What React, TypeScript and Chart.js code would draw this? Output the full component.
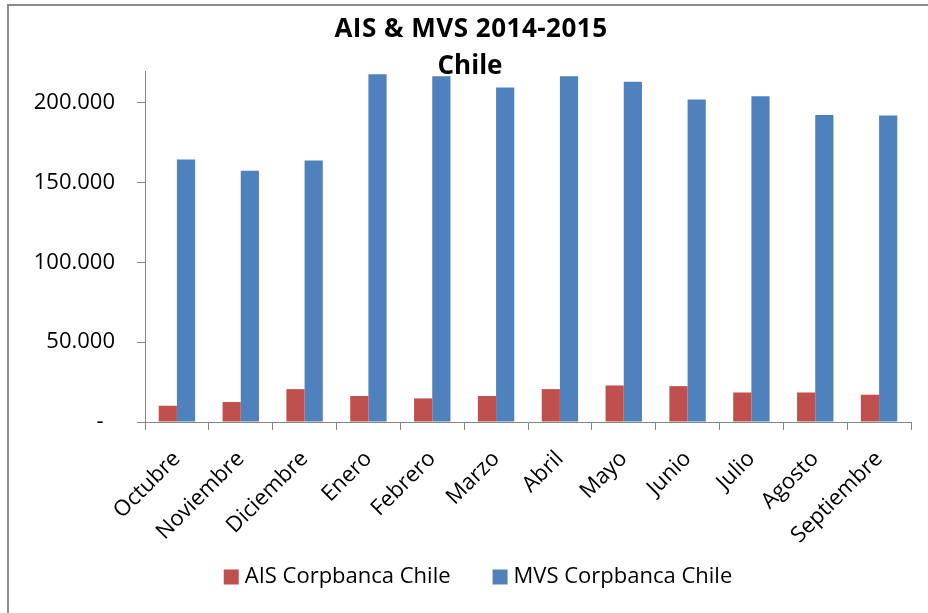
import React, { useEffect, useRef } from 'react';
import { Chart, registerables } from 'chart.js';

Chart.register(...registerables);

const categories = ['Octubre', 'Noviembre', 'Diciembre', 'Enero', 'Febrero', 'Marzo', 'Abril', 'Mayo', 'Junio', 'Julio', 'Agosto', 'Septiembre'];
const aisValues = [10200, 12500, 20600, 16300, 14800, 16300, 20600, 22900, 22500, 18500, 18500, 17100];
const mvsValues = [164600, 157500, 163900, 217900, 216700, 209600, 216700, 213300, 202100, 204200, 192500, 192100];
const yTickValues = [0, 50000, 100000, 150000, 200000];
const seriesNames = ['AIS Corpbanca Chile', 'MVS Corpbanca Chile'];
const seriesColors = ['#C0504D', '#4F81BD'];
const titleLines = ['AIS & MVS 2014-2015', 'Chile'];

const FONT = '"Open Sans", "Liberation Sans", sans-serif';
const AXIS_GRAY = '#868686';

const fmt = (v: number) => (v === 0 ? '-  ' : String(v).replace(/\B(?=(\d{3})+(?!\d))/g, '.'));

const decorPlugin = {
  id: 'decor',
  afterDraw(chart: any) {
    const ctx = chart.ctx;
    ctx.save();
    // outer frame
    ctx.strokeStyle = '#8C8C8C';
    ctx.lineWidth = 2;
    ctx.beginPath();
    ctx.moveTo(8, 613);
    ctx.lineTo(8, 5);
    ctx.lineTo(930, 5);
    ctx.stroke();
    // title
    ctx.fillStyle = '#000';
    ctx.font = `bold 26px ${FONT}`;
    ctx.textAlign = 'center';
    ctx.textBaseline = 'alphabetic';
    (ctx as any).letterSpacing = '0.5px';
    ctx.fillText(titleLines[0], 471, 37);
    (ctx as any).letterSpacing = '0px';
    ctx.fillText(titleLines[1], 470, 74);
    // legend
    ctx.font = `22px ${FONT}`;
    ctx.textAlign = 'left';
    ctx.textBaseline = 'middle';
    const box = 15;
    const gapText = 6;
    const gapItem = 42;
    const widths = seriesNames.map((n) => ctx.measureText(n).width);
    const total = widths.reduce((a, w) => a + box + gapText + w, 0) + gapItem * (seriesNames.length - 1);
    let x = 478 - total / 2;
    const cy = 577;
    seriesNames.forEach((n, i) => {
      ctx.fillStyle = seriesColors[i];
      ctx.fillRect(x, cy - box / 2, box, box);
      ctx.fillStyle = '#000';
      ctx.fillText(n, x + box + gapText, cy);
      x += box + gapText + widths[i] + gapItem;
    });
    ctx.restore();
  },
};

export default function App() {
  const ref = useRef<HTMLCanvasElement>(null);
  useEffect(() => {
    if (!ref.current) return;
    const chart = new Chart(ref.current, {
      type: 'bar',
      data: {
        labels: categories,
        datasets: [
          { label: seriesNames[0], data: aisValues, backgroundColor: seriesColors[0], categoryPercentage: 0.57, barPercentage: 1 },
          { label: seriesNames[1], data: mvsValues, backgroundColor: seriesColors[1], categoryPercentage: 0.57, barPercentage: 1 },
        ],
      },
      options: {
        animation: false,
        responsive: false,
        layout: { padding: { left: 0, right: 17, top: 71, bottom: 41 } },
        plugins: { legend: { display: false }, title: { display: false }, tooltip: { enabled: false } },
        scales: {
          x: {
            afterFit: (s: any) => { s.height = 150; },
            grid: { display: true, drawOnChartArea: false, drawTicks: true, tickLength: 8, color: AXIS_GRAY, offset: true },
            border: { color: AXIS_GRAY, width: 1 },
            ticks: { autoSkip: false, minRotation: 45, maxRotation: 45, color: '#000', font: { family: FONT, size: 22 }, padding: 16 },
          },
          y: {
            min: 0,
            max: 220000,
            afterFit: (s: any) => { s.width = 145; },
            afterBuildTicks: (s: any) => { s.ticks = yTickValues.map((v) => ({ value: v })); },
            grid: { display: true, drawOnChartArea: false, drawTicks: true, tickLength: 8, color: AXIS_GRAY },
            border: { color: AXIS_GRAY, width: 1 },
            ticks: { color: '#000', font: { family: FONT, size: 22 }, padding: 22, callback: (v: any) => fmt(Number(v)) },
          },
        },
      },
      plugins: [decorPlugin],
    });
    return () => chart.destroy();
  }, []);
  return (
    <div style={{ position: 'fixed', left: 0, top: 0, width: 928, height: 613, background: '#fff' }}>
      <canvas ref={ref} width={928} height={613} />
    </div>
  );
}
